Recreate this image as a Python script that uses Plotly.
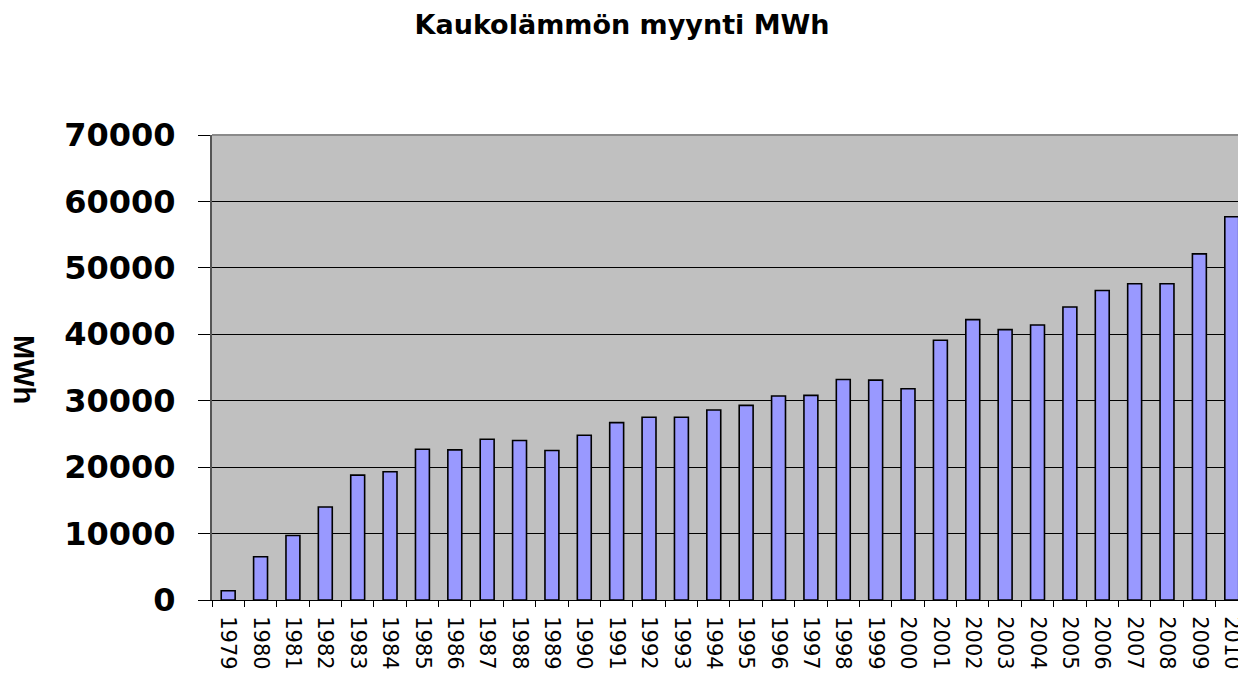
import plotly.graph_objects as go

years = [str(y) for y in range(1979, 2011)]
sales_mwh = [1400, 6500, 9700, 14000, 18800, 19300, 22700, 22600, 24200, 24000,
             22500, 24800, 26700, 27500, 27500, 28600, 29300, 30700, 30800, 33200,
             33100, 31800, 39100, 42200, 40700, 41400, 44100, 46600, 47600, 47600,
             52100, 57700]
y_ticks = [0, 10000, 20000, 30000, 40000, 50000, 60000, 70000]

fig = go.Figure()
fig.add_trace(go.Bar(
    x=years, y=sales_mwh,
    marker=dict(color="#9999FF", line=dict(color="#000000", width=1.6)),
))

fig.update_layout(
    width=1238, height=669,
    margin=dict(l=204, r=0, t=127, b=77, autoexpand=False),
    paper_bgcolor="white",
    plot_bgcolor="#C0C0C0",
    bargap=0.57,
    showlegend=False,
    title=dict(
        text="<b>Kaukolämmön myynti MWh</b>",
        x=0.496, xanchor="center", xref="container",
        y=0.976, yanchor="middle",
        font=dict(family="DejaVu Sans", size=27, color="black"),
    ),
    xaxis=dict(
        type="category",
        automargin=False,
        range=[-0.5, 31.44],
        tickangle=90,
        tickfont=dict(family="DejaVu Sans", size=21, color="black"),
        ticks="outside", ticklen=6, tickcolor="#000000", tickwidth=1,
        tickson="boundaries",
        ticklabelstandoff=11,
        showline=True, linecolor="#000000", linewidth=1,
        mirror=False,
        showgrid=False,
    ),
    yaxis=dict(
        automargin=False,
        range=[0, 70000],
        tickvals=y_ticks,
        ticktext=[str(v) for v in y_ticks],
        tickfont=dict(family="DejaVu Sans", size=32, color="black", weight="bold"),
        ticks="outside", ticklen=12, tickcolor="#000000", tickwidth=1,
        ticklabelstandoff=16,
        showline=True, linecolor="#555555", linewidth=2,
        showgrid=True, gridcolor="#000000", gridwidth=1,
        zeroline=False,
    ),
    shapes=[dict(type="line", xref="paper", yref="paper", x0=0, x1=1, y0=1, y1=1,
                 line=dict(color="#8a8a8a", width=2))],
    annotations=[dict(
        text="<b>MWh</b>", textangle=90,
        xref="paper", yref="paper", x=-0.182, y=0.495,
        xanchor="center", yanchor="middle", showarrow=False,
        font=dict(family="Liberation Sans", size=29, color="black"),
    )],
)

fig.write_html("out.html")
